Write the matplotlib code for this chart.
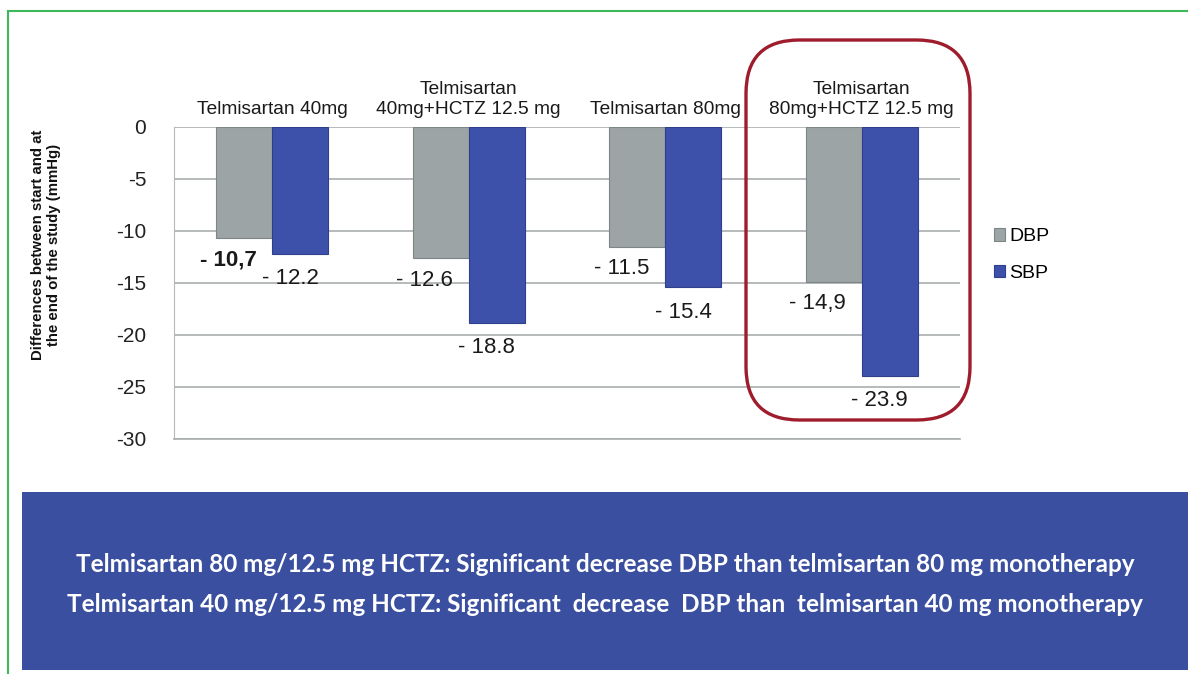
import matplotlib.pyplot as plt
import numpy as np
from matplotlib.patches import Rectangle, FancyBboxPatch
from matplotlib.lines import Line2D

# data
groups = ['Telmisartan 40mg', 'Telmisartan\n40mg+HCTZ 12.5 mg',
          'Telmisartan 80mg', 'Telmisartan\n80mg+HCTZ 12.5 mg']
dbp = [-10.7, -12.6, -11.5, -14.9]
sbp = [-12.2, -18.8, -15.4, -23.9]
dbp_labels = ['- 10,7', '- 12.6', '- 11.5', '- 14,9']
sbp_labels = ['- 12.2', '- 18.8', '- 15.4', '- 23.9']
yticks = [0, -5, -10, -15, -20, -25, -30]

gray = '#9ca4a5'
blue = '#3e51aa'
box_blue = '#3a4f9f'

plt.rcParams['font.family'] = ['Liberation Sans', 'DejaVu Sans']

fig = plt.figure(figsize=(11.88, 6.74), dpi=100)
W, H = 1188, 674

def fx(px):
    return px / W

def fy(py):
    return 1 - py / H

# green frame (left and top)
fig.add_artist(Line2D([fx(8), fx(8)], [fy(11), 0], color='#3cb95a', lw=1.5))
fig.add_artist(Line2D([fx(8), 1], [fy(11), fy(11)], color='#3cb95a', lw=1.5))

ax = fig.add_axes([fx(174), fy(439), fx(960) - fx(174), fy(127) - fy(439)])
x = np.arange(len(groups))
w = 0.285
b1 = ax.bar(x - w / 2, dbp, w, color=gray, edgecolor='#7d8585', lw=0.8, label='DBP', zorder=3)
b2 = ax.bar(x + w / 2, sbp, w, color=blue, edgecolor='#2f3f8c', lw=0.8, label='SBP', zorder=3)

ax.set_xlim(-0.5, 3.5)
ax.set_ylim(-30, 0)
ax.set_yticks(yticks)
ax.set_yticklabels([str(t) for t in yticks], fontsize=15, color='#222222')
ax.set_xticks([])
ax.tick_params(axis='y', length=0, pad=20)
ax.grid(axis='y', color='#a9aeae', lw=1.2, zorder=0)
for s in ['top', 'right']:
    ax.spines[s].set_visible(False)
ax.spines['left'].set_color('#b5b9b9')
ax.spines['bottom'].set_color('#a9aeae')
ax.spines['bottom'].set_linewidth(1.2)

# value labels under each bar
for i in range(len(groups)):
    ax.annotate(dbp_labels[i], (x[i] - w / 2, dbp[i]), xytext=(-16, -22),
                textcoords='offset pixels', ha='center', va='center', fontsize=16,
                fontweight='bold' if i == 0 else 'normal', color='#1a1a1a')
    ax.annotate(sbp_labels[i], (x[i] + w / 2, sbp[i]), xytext=(-10, -25),
                textcoords='offset pixels', ha='center', va='center', fontsize=16,
                color='#1a1a1a')

# group names above the plot
for i, g in enumerate(groups):
    ax.text(x[i], 1.03, g, transform=ax.get_xaxis_transform(), ha='center',
            va='bottom', fontsize=13.8, color='#1a1a1a', linespacing=1.2)

fig.text(fx(46), fy(245), 'Differences between start and at\nthe end of the study (mmHg)',
         rotation=90, ha='center', va='center', fontsize=10.8, fontweight='bold',
         linespacing=1.2, color='#111111')

fig.legend(handles=[b1, b2], loc='center left', bbox_to_anchor=(fx(976), fy(255)),
           frameon=False, fontsize=14, handlelength=0.6, handleheight=0.6,
           handletextpad=0.2, labelspacing=1.0)

# red highlight round the last group
fig.add_artist(FancyBboxPatch((fx(746), fy(420)), fx(970) - fx(746), fy(40) - fy(420),
                              boxstyle='round,pad=0,rounding_size=0.045',
                              fc='none', ec='#9e1c2c', lw=2.4,
                              transform=fig.transFigure, mutation_aspect=W / H))

# blue note box
fig.add_artist(Rectangle((fx(22), fy(670)), 1 - fx(22), fy(492) - fy(670),
                         fc=box_blue, ec='none', transform=fig.transFigure))
fig.text(fx(605), fy(564),
         'Telmisartan 80 mg/12.5 mg HCTZ: Significant decrease DBP than telmisartan 80 mg monotherapy',
         ha='center', va='center', color='white', fontsize=17.5, fontweight='bold',
         family=['Lato', 'DejaVu Sans'])
fig.text(fx(605), fy(604),
         'Telmisartan 40 mg/12.5 mg HCTZ: Significant  decrease  DBP than  telmisartan 40 mg monotherapy',
         ha='center', va='center', color='white', fontsize=17.5, fontweight='bold',
         family=['Lato', 'DejaVu Sans'])

fig.savefig('out.png', dpi=100)
